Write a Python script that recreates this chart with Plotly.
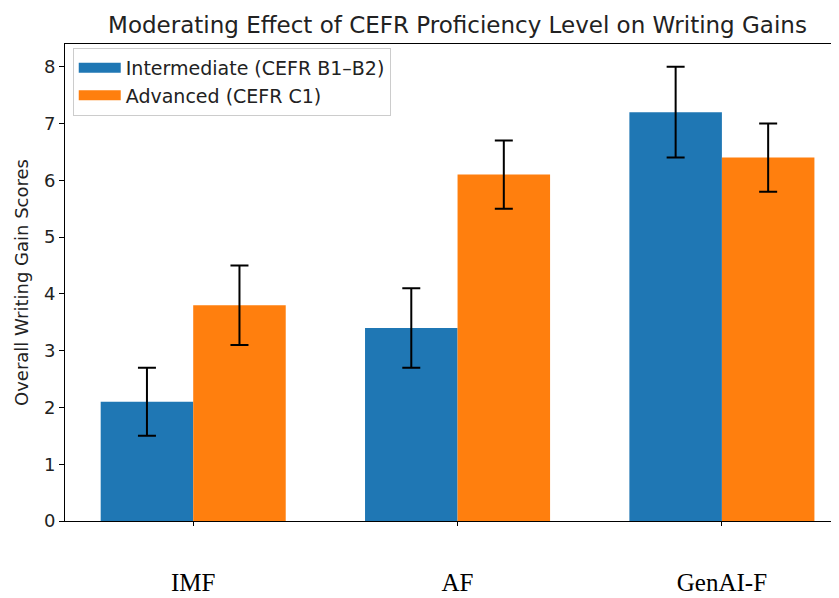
import plotly.graph_objects as go

categories = ["IMF", "AF", "GenAI-F"]
intermediate = [2.1, 3.4, 7.2]
intermediate_err = [0.6, 0.7, 0.8]
advanced = [3.8, 6.1, 6.4]
advanced_err = [0.7, 0.6, 0.6]
series_names = ["Intermediate (CEFR B1\u2013B2)", "Advanced (CEFR C1)"]
colors = ["#1f77b4", "#ff7f0e"]
y_ticks = [0, 1, 2, 3, 4, 5, 6, 7, 8]

x_pos = list(range(len(categories)))

# page body has an 8px default margin; size the figure to fit the 839x598 window
W, H = 831, 590

fig = go.Figure()
for vals, errs, name, col in [(intermediate, intermediate_err, series_names[0], colors[0]),
                              (advanced, advanced_err, series_names[1], colors[1])]:
    fig.add_trace(go.Bar(
        x=x_pos, y=vals, name=name, marker_color=col, marker_line_width=0,
        showlegend=False, legendgroup=name,
        error_y=dict(type="data", array=errs, color="black", thickness=2, width=9),
    ))
# legend entries with wide rectangular swatches
for name, col in zip(series_names, colors):
    fig.add_trace(go.Scatter(
        x=[None], y=[None], mode="lines", name=name, legendgroup=name,
        line=dict(color=col, width=13),
    ))

fig.update_layout(
    width=W, height=H,
    margin=dict(l=57, r=0, t=36, b=77),
    paper_bgcolor="white", plot_bgcolor="white",
    barmode="group", bargap=0.3, bargroupgap=0,
    font=dict(family="DejaVu Sans", size=18, color="#222"),
    title=dict(text="Moderating Effect of CEFR Proficiency Level on Writing Gains",
               x=449.5 / W, xanchor="center", y=1 - 17 / H, yanchor="middle",
               font=dict(size=23, color="#222")),
    legend=dict(x=0.01, y=0.992, xanchor="left", yanchor="top",
                bgcolor="rgba(255,255,255,0.9)", bordercolor="#cccccc", borderwidth=1,
                font=dict(size=19, color="#222"), tracegroupgap=0, itemwidth=42),
    showlegend=True,
)
fig.update_xaxes(
    range=[-0.485, 2.443], tickmode="array", tickvals=x_pos, ticktext=categories,
    tickfont=dict(family="Liberation Serif", size=25, color="black"),
    ticks="outside", ticklen=4, tickcolor="black", ticklabelstandoff=35,
    showline=True, linecolor="black", linewidth=1, mirror=True, showgrid=False, zeroline=False,
    automargin=False,
)
fig.update_yaxes(
    range=[0, 8.4], tickmode="array", tickvals=y_ticks,
    ticks="outside", ticklen=5, tickcolor="black",
    tickfont=dict(size=18, color="#222"),
    title=dict(text="Overall Writing Gain Scores", font=dict(size=18, color="#222"), standoff=10),
    showline=True, linecolor="black", linewidth=1, mirror=False, showgrid=False, zeroline=False,
    automargin=False,
)

fig.write_html("out.html")
